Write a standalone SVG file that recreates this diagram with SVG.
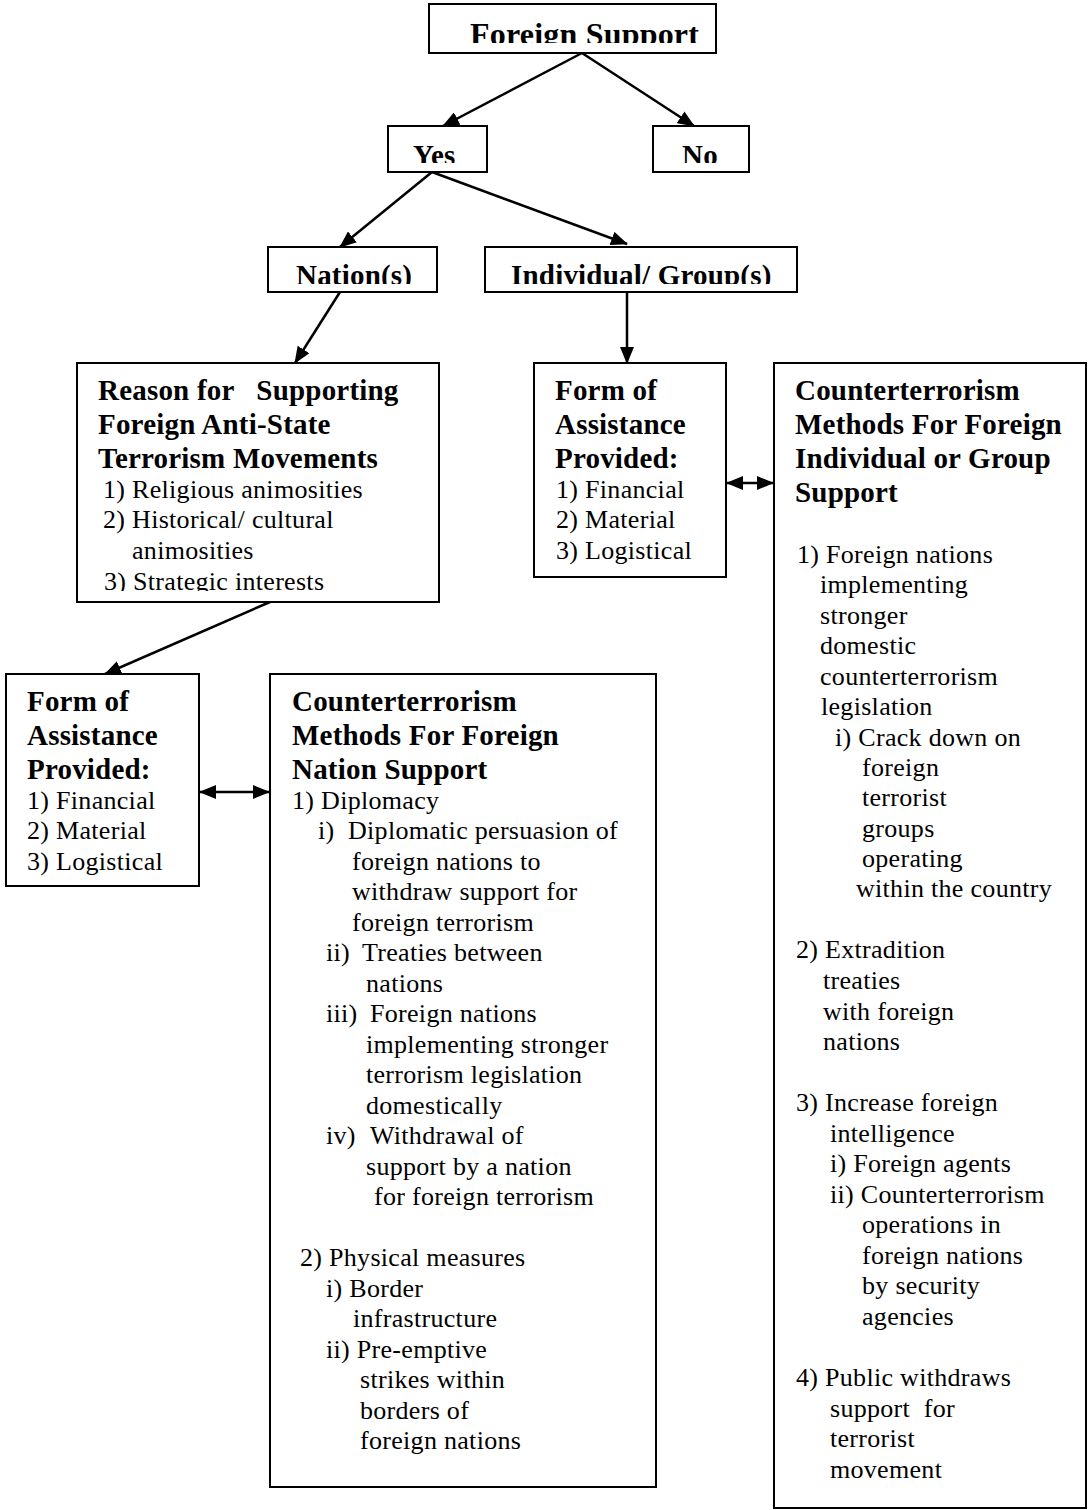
<svg xmlns="http://www.w3.org/2000/svg" width="1089" height="1510" viewBox="0 0 1089 1510">
  <style>
    .box { fill: #fff; stroke: #000; stroke-width: 2; }
    .hd { font-family: "Liberation Serif", "Times New Roman", serif; font-weight: bold; font-size: 29px; letter-spacing: 0.2px; fill: #000; white-space: pre; }
    .tx { font-family: "Liberation Serif", "Times New Roman", serif; font-size: 26px; letter-spacing: 0.3px; fill: #000; white-space: pre; }
    .ln { stroke: #000; stroke-width: 2.5; fill: none; }
  </style>
  <defs>
    <marker id="ah" viewBox="0 0 17 14" markerWidth="17" markerHeight="14" refX="16" refY="7" orient="auto-start-reverse" markerUnits="userSpaceOnUse">
      <path d="M0,0 L17,7 L0,14 z" fill="#000"/>
    </marker>
    <clipPath id="cFS"><rect x="429" y="4" width="287" height="39"/></clipPath>
    <clipPath id="cYes"><rect x="388" y="126" width="99" height="37"/></clipPath>
    <clipPath id="cNo"><rect x="653" y="126" width="96" height="37"/></clipPath>
    <clipPath id="cNat"><rect x="268" y="247" width="169" height="37"/></clipPath>
    <clipPath id="cInd"><rect x="485" y="247" width="312" height="37"/></clipPath>
    <clipPath id="cRsn"><rect x="77" y="363" width="362" height="228"/></clipPath>
  </defs>
  <rect width="1089" height="1510" fill="#fff"/>

  <!-- connectors -->
  <g id="connectors">
    <line class="ln" x1="582" y1="53" x2="443" y2="126" marker-end="url(#ah)"/>
    <line class="ln" x1="582" y1="53" x2="694" y2="126" marker-end="url(#ah)"/>
    <line class="ln" x1="432" y1="172" x2="340" y2="247" marker-end="url(#ah)"/>
    <line class="ln" x1="432" y1="172" x2="627" y2="244" marker-end="url(#ah)"/>
    <line class="ln" x1="340" y1="292" x2="295" y2="363" marker-end="url(#ah)"/>
    <line class="ln" x1="627" y1="292" x2="627" y2="363" marker-end="url(#ah)"/>
    <line class="ln" x1="270" y1="602" x2="105" y2="674" marker-end="url(#ah)"/>
    <line class="ln" x1="727" y1="483" x2="773" y2="483" marker-start="url(#ah)" marker-end="url(#ah)"/>
    <line class="ln" x1="200" y1="792" x2="269" y2="792" marker-start="url(#ah)" marker-end="url(#ah)"/>
  </g>

  <g id="foreign-support">
    <rect class="box" x="429" y="4" width="287" height="49"/>
    <text class="hd" x="470" y="45" clip-path="url(#cFS)" style="font-size:32px">Foreign Support</text>
  </g>

  <g id="yes">
    <rect class="box" x="388" y="126" width="99" height="46"/>
    <text class="hd" x="413" y="165" clip-path="url(#cYes)">Yes</text>
  </g>

  <g id="no">
    <rect class="box" x="653" y="126" width="96" height="46"/>
    <text class="hd" x="682" y="165" clip-path="url(#cNo)">No</text>
  </g>

  <g id="nations">
    <rect class="box" x="268" y="247" width="169" height="45"/>
    <text class="hd" x="296" y="285" clip-path="url(#cNat)">Nation(s)</text>
  </g>

  <g id="individual-groups">
    <rect class="box" x="485" y="247" width="312" height="45"/>
    <text class="hd" x="511" y="285" clip-path="url(#cInd)">Individual/ Group(s)</text>
  </g>

  <g id="reason">
    <rect class="box" x="77" y="363" width="362" height="239"/>
    <g clip-path="url(#cRsn)">
      <text class="hd" x="98" y="400">Reason for   Supporting</text>
      <text class="hd" x="98" y="434">Foreign Anti-State</text>
      <text class="hd" x="98" y="468">Terrorism Movements</text>
      <text class="tx" x="103" y="498">1) Religious animosities</text>
      <text class="tx" x="103" y="528">2) Historical/ cultural</text>
      <text class="tx" x="132" y="559">animosities</text>
      <text class="tx" x="104" y="590">3) Strategic interests</text>
    </g>
  </g>

  <g id="assistance-groups">
    <rect class="box" x="534" y="363" width="192" height="214"/>
    <text class="hd" x="555" y="400">Form of</text>
    <text class="hd" x="555" y="434">Assistance</text>
    <text class="hd" x="555" y="468">Provided:</text>
    <text class="tx" x="556" y="498">1) Financial</text>
    <text class="tx" x="556" y="528">2) Material</text>
    <text class="tx" x="556" y="559">3) Logistical</text>
  </g>

  <g id="counter-groups">
    <rect class="box" x="774" y="363" width="312" height="1145"/>
    <text class="hd" x="795" y="400">Counterterrorism</text>
    <text class="hd" x="795" y="434">Methods For Foreign</text>
    <text class="hd" x="795" y="468">Individual or Group</text>
    <text class="hd" x="795" y="502">Support</text>
    <text class="tx" x="797" y="563">1) Foreign nations</text>
    <text class="tx" x="820" y="593">implementing</text>
    <text class="tx" x="820" y="624">stronger</text>
    <text class="tx" x="820" y="654">domestic</text>
    <text class="tx" x="820" y="685">counterterrorism</text>
    <text class="tx" x="821" y="715">legislation</text>
    <text class="tx" x="835" y="746">i) Crack down on</text>
    <text class="tx" x="862" y="776">foreign</text>
    <text class="tx" x="862" y="806">terrorist</text>
    <text class="tx" x="862" y="837">groups</text>
    <text class="tx" x="862" y="867">operating</text>
    <text class="tx" x="856" y="897">within the country</text>
    <text class="tx" x="796" y="958">2) Extradition</text>
    <text class="tx" x="823" y="989">treaties</text>
    <text class="tx" x="823" y="1020">with foreign</text>
    <text class="tx" x="823" y="1050">nations</text>
    <text class="tx" x="796" y="1111">3) Increase foreign</text>
    <text class="tx" x="830" y="1142">intelligence</text>
    <text class="tx" x="830" y="1172">i) Foreign agents</text>
    <text class="tx" x="830" y="1203">ii) Counterterrorism</text>
    <text class="tx" x="862" y="1233">operations in</text>
    <text class="tx" x="862" y="1264">foreign nations</text>
    <text class="tx" x="862" y="1294">by security</text>
    <text class="tx" x="862" y="1325">agencies</text>
    <text class="tx" x="796" y="1386">4) Public withdraws</text>
    <text class="tx" x="830" y="1417">support  for</text>
    <text class="tx" x="830" y="1447">terrorist</text>
    <text class="tx" x="830" y="1478">movement</text>
  </g>

  <g id="assistance-nations">
    <rect class="box" x="6" y="674" width="193" height="212"/>
    <text class="hd" x="27" y="711">Form of</text>
    <text class="hd" x="27" y="745">Assistance</text>
    <text class="hd" x="27" y="779">Provided:</text>
    <text class="tx" x="27" y="809">1) Financial</text>
    <text class="tx" x="27" y="839">2) Material</text>
    <text class="tx" x="27" y="870">3) Logistical</text>
  </g>

  <g id="counter-nations">
    <rect class="box" x="270" y="674" width="386" height="813"/>
    <text class="hd" x="292" y="711">Counterterrorism</text>
    <text class="hd" x="292" y="745">Methods For Foreign</text>
    <text class="hd" x="292" y="779">Nation Support</text>
    <text class="tx" x="292" y="809">1) Diplomacy</text>
    <text class="tx" x="318" y="839">i)</text>
    <text class="tx" x="348" y="839">Diplomatic persuasion of</text>
    <text class="tx" x="352" y="870">foreign nations to</text>
    <text class="tx" x="352" y="900">withdraw support for</text>
    <text class="tx" x="352" y="931">foreign terrorism</text>
    <text class="tx" x="326" y="961">ii)</text>
    <text class="tx" x="362" y="961">Treaties between</text>
    <text class="tx" x="366" y="992">nations</text>
    <text class="tx" x="326" y="1022">iii)</text>
    <text class="tx" x="370" y="1022">Foreign nations</text>
    <text class="tx" x="366" y="1053">implementing stronger</text>
    <text class="tx" x="366" y="1083">terrorism legislation</text>
    <text class="tx" x="366" y="1114">domestically</text>
    <text class="tx" x="326" y="1144">iv)</text>
    <text class="tx" x="370" y="1144">Withdrawal of</text>
    <text class="tx" x="366" y="1175">support by a nation</text>
    <text class="tx" x="374" y="1205">for foreign terrorism</text>
    <text class="tx" x="300" y="1266">2) Physical measures</text>
    <text class="tx" x="326" y="1297">i) Border</text>
    <text class="tx" x="353" y="1327">infrastructure</text>
    <text class="tx" x="326" y="1358">ii) Pre-emptive</text>
    <text class="tx" x="360" y="1388">strikes within</text>
    <text class="tx" x="360" y="1419">borders of</text>
    <text class="tx" x="360" y="1449">foreign nations</text>
  </g>
</svg>
